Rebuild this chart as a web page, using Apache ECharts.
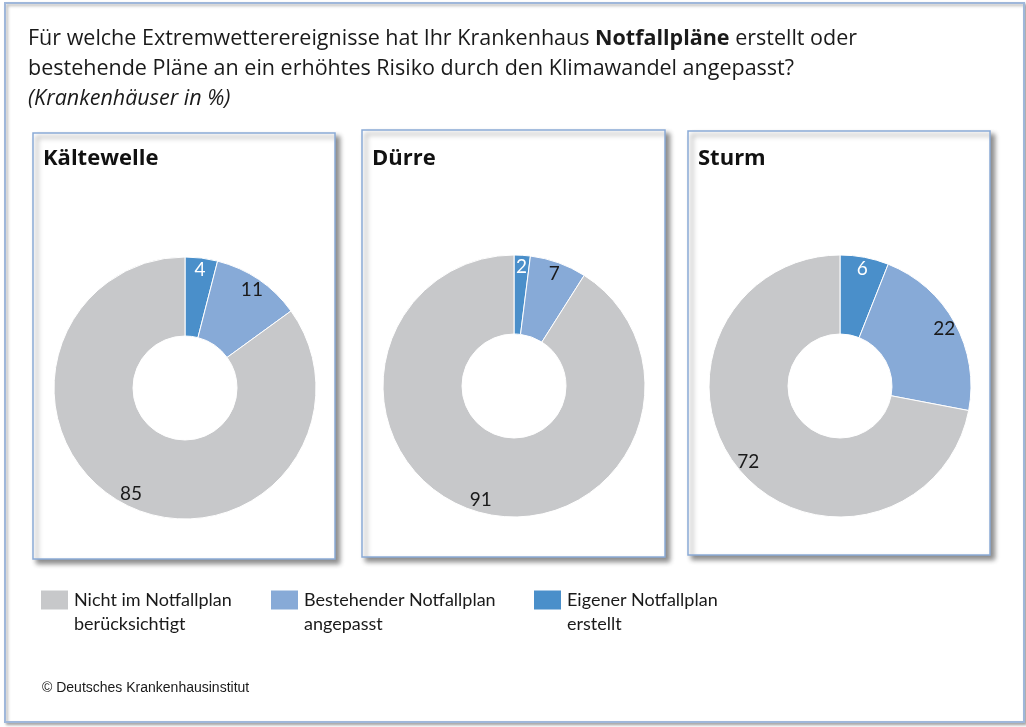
<!DOCTYPE html>
<html>
<head>
<meta charset="utf-8">
<script src="https://cdn.jsdelivr.net/npm/echarts@6/dist/echarts.min.js"></script>
<style>
  html, body { margin: 0; padding: 0; background: #fff; }
  #chart { width: 1026px; height: 727px; }
</style>
</head>
<body>
<div id="chart"></div>
<script>
// Kategorien (Reihenfolge im Uhrzeigersinn ab 12 Uhr)
const categories = ['Eigener Notfallplan erstellt', 'Bestehender Notfallplan angepasst', 'Nicht im Notfallplan berücksichtigt'];
const legendLabels = ['Eigener Notfallplan\nerstellt', 'Bestehender Notfallplan\nangepasst', 'Nicht im Notfallplan\nberücksichtigt'];
const panels = ['Kältewelle', 'Dürre', 'Sturm'];
const kaeltewelle = [4, 11, 85];
const duerre = [2, 7, 91];
const sturm = [6, 22, 72];
const values = [kaeltewelle, duerre, sturm];

const colors = ['#4a8fca', '#87aad7', '#c7c8ca'];
const labelColors = ['#ffffff', '#1a1a1a', '#1a1a1a'];
const font = 'Open Sans';
const labelFont = 'Lato';

// Panel-Geometrie
const boxes = [
  { x: 33, y: 133, w: 302, h: 426, cx: 185, cy: 388 },
  { x: 362, y: 130, w: 303, h: 427, cx: 514, cy: 386 },
  { x: 688, y: 131, w: 302, h: 424, cx: 840, cy: 386 }
];

const chart = echarts.init(document.getElementById('chart'));

const series = [];
values.forEach((vals, p) => {
  const data = vals.map((v, i) => ({
    name: categories[i],
    value: v,
    itemStyle: { color: colors[i] },
    label: { color: labelColors[i] }
  }));
  // Ring
  series.push({
    type: 'pie',
    center: [boxes[p].cx, boxes[p].cy],
    radius: [52, 131],
    startAngle: 90,
    clockwise: true,
    silent: true,
    label: { show: false },
    labelLine: { show: false },
    itemStyle: { borderColor: '#fff', borderWidth: 1 },
    data: data
  });
  // nur Beschriftungen, weiter außen im Ring
  series.push({
    type: 'pie',
    center: [boxes[p].cx, boxes[p].cy],
    radius: [101, 131],
    startAngle: 90,
    clockwise: true,
    silent: true,
    labelLine: { show: false },
    label: {
      show: true,
      position: 'inside',
      formatter: '{c}',
      fontFamily: labelFont,
      fontSize: 19
    },
    data: data.map(d => ({ name: d.name, value: d.value, label: d.label, itemStyle: { color: 'rgba(0,0,0,0)' } }))
  });
});

const titles = [{
  left: 23,
  top: 19,
  text: '{a|Für welche Extremwetterereignisse hat Ihr Krankenhaus }{b|Notfallpläne}{a| erstellt oder}\n' +
        '{a|bestehende Pläne an ein erhöhtes Risiko durch den Klimawandel angepasst?}\n' +
        '{i|(Krankenhäuser in %)}',
  textStyle: {
    rich: {
      a: { fontFamily: font, fontSize: 21.5, fontWeight: 'normal', color: '#1a1a1a', lineHeight: 30 },
      b: { fontFamily: font, fontSize: 21.5, fontWeight: 'bold', color: '#1a1a1a', lineHeight: 30 },
      i: { fontFamily: font, fontSize: 21.5, fontWeight: 'normal', fontStyle: 'italic', color: '#1a1a1a', lineHeight: 30 }
    }
  }
}];
panels.forEach((name, p) => {
  titles.push({
    left: boxes[p].x + 5,
    top: 143,
    text: name,
    textStyle: { fontFamily: font, fontSize: 22, fontWeight: 'bold', color: '#111' }
  });
});

const legendPos = [532, 269, 39];
const legends = categories.map((c, i) => ({
  left: legendPos[i],
  top: 564,
  padding: 0,
  orient: 'horizontal',
  icon: 'rect',
  itemWidth: 29,
  itemHeight: 21,
  selectedMode: false,
  data: [c],
  formatter: () => '\n' + legendLabels[i],
  textStyle: {
    fontFamily: labelFont,
    fontSize: 18,
    color: '#1a1a1a',
    lineHeight: 24
  }
}));

const graphics = [
  {
    type: 'rect',
    shape: { x: 5, y: 3, width: 1019, height: 719 },
    style: { fill: '#fff', stroke: '#9fb7da', lineWidth: 2, shadowBlur: 3, shadowOffsetX: 2, shadowOffsetY: 2, shadowColor: 'rgba(0,0,0,0.3)' },
    z: -10
  }
];
boxes.forEach(b => {
  graphics.push({
    type: 'rect',
    shape: { x: b.x, y: b.y, width: b.w, height: b.h },
    style: { fill: '#fff', stroke: '#8aaad6', lineWidth: 1.5, shadowBlur: 5, shadowOffsetX: 4, shadowOffsetY: 4, shadowColor: 'rgba(0,0,0,0.45)' },
    z: -5
  });
});
graphics.push({
  type: 'text',
  left: 42,
  top: 681,
  style: { text: '© Deutsches Krankenhausinstitut', font: '14px "Liberation Sans"', fill: '#1a1a1a' }
});

chart.setOption({
  backgroundColor: '#fff',
  animation: false,
  title: titles,
  legend: legends,
  graphic: graphics,
  series: series
});
</script>
</body>
</html>
